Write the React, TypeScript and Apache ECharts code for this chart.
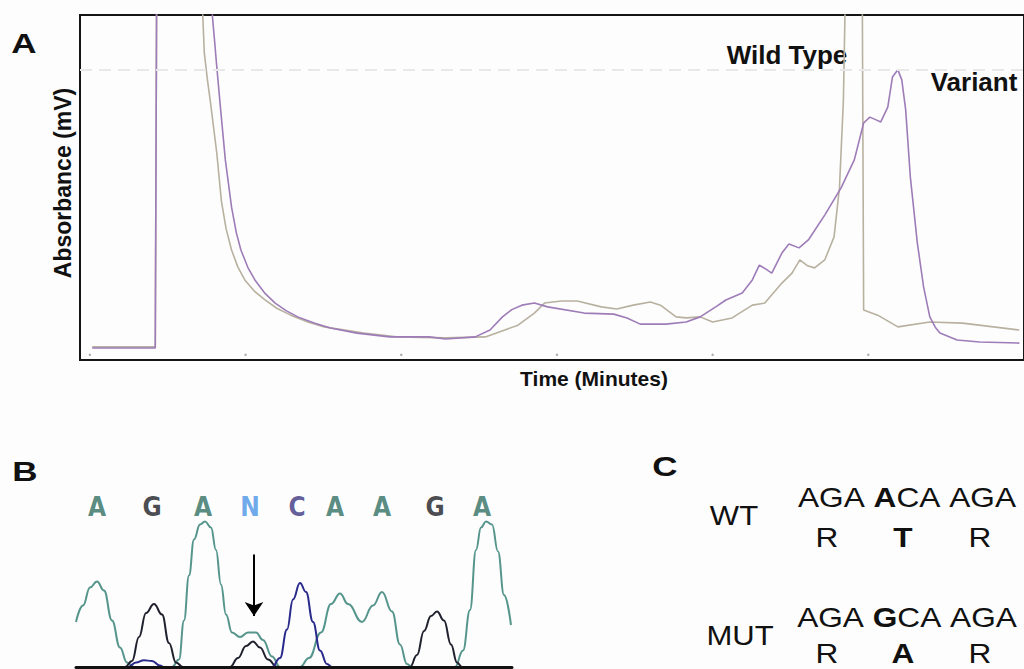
import React, { useEffect, useRef } from "react";
import * as echarts from "echarts";

// ---------- Panel A: chromatogram (time in minutes, absorbance in relative mV) ----------
const variantTrace: [number, number][] = [
  [0.03, 3.5], [0.84, 3.5], [0.86, 120], [1.56, 120], [1.575, 99.4], [1.60, 93.0], [1.63, 85.0],
  [1.68, 72.5], [1.74, 58.0], [1.82, 44.3], [1.88, 37.0], [1.94, 31.9], [2.03, 26.8], [2.12, 23.2],
  [2.25, 19.3], [2.38, 16.5], [2.52, 14.3], [2.67, 12.5], [2.88, 10.7], [3.09, 9.3], [3.43, 7.8],
  [3.85, 6.7], [4.36, 6.7], [4.57, 6.1], [4.95, 6.7], [5.14, 8.7], [5.30, 12.5], [5.42, 14.6],
  [5.55, 15.9], [5.71, 16.5], [5.88, 15.4], [6.35, 13.6], [6.73, 13.3], [6.90, 12.2], [7.07, 10.4],
  [7.40, 10.4], [7.66, 11.0], [7.84, 12.5], [8.04, 15.4], [8.17, 17.4], [8.38, 19.4], [8.51, 23.2],
  [8.60, 27.5], [8.68, 26.4], [8.76, 25.2], [8.89, 31.0], [8.98, 33.6], [9.11, 32.5], [9.23, 34.8],
  [9.44, 42.0], [9.65, 49.9], [9.82, 58.0], [9.94, 68.7], [10.02, 70.4], [10.10, 69.6], [10.16, 69.0],
  [10.25, 73.3], [10.31, 82.0], [10.38, 84.1], [10.43, 81.2], [10.48, 72.5], [10.54, 53.0],
  [10.63, 33.9], [10.71, 21.2], [10.79, 12.5], [10.86, 9.5], [10.92, 7.8], [11.14, 5.8], [11.43, 5.2],
  [11.94, 4.9],
];
const wildTypeTrace: [number, number][] = [
  [0.03, 3.8], [0.84, 3.8], [0.86, 120], [1.43, 120], [1.45, 100], [1.47, 89.0], [1.51, 81.2],
  [1.55, 74.5], [1.63, 60.0], [1.69, 46.0], [1.75, 38.0], [1.82, 31.9], [1.90, 27.0], [1.99, 23.2],
  [2.12, 19.8], [2.25, 17.4], [2.40, 15.0], [2.58, 13.0], [2.80, 11.0], [3.01, 9.6], [3.52, 7.8],
  [3.94, 6.7], [4.57, 6.4], [5.08, 6.7], [5.50, 10.1], [5.71, 13.6], [5.84, 16.5], [6.06, 17.1],
  [6.26, 17.1], [6.57, 15.4], [6.77, 14.8], [6.98, 15.9], [7.20, 16.8], [7.33, 15.9], [7.53, 12.5],
  [7.66, 12.2], [7.84, 12.5], [8.00, 11.0], [8.25, 12.2], [8.51, 15.9], [8.67, 16.5], [8.89, 22.3],
  [9.02, 25.2], [9.12, 29.0], [9.22, 27.3], [9.31, 26.7], [9.44, 29.0], [9.56, 35.7], [9.63, 50.1],
  [9.68, 75.4], [9.70, 100], [9.73, 120], [9.92, 120], [9.94, 14.5], [10.12, 13.0], [10.38, 9.6],
  [10.79, 11.0], [11.21, 10.7], [11.94, 8.7],
];
const timeTicks = [0, 2, 4, 6, 8, 10];
const referenceLevel = 84.1;

// ---------- Panel B: sequencing trace (scan position, signal) ----------
const baseCalls = ["A", "G", "A", "N", "C", "A", "A", "G", "A"];
const baseCallPositions = [21, 76, 127, 174, 221, 259, 306, 359, 406];
const channelA: [number, number][] = [
  [0, 30], [7, 41], [14, 53], [21, 57], [28, 51], [36, 31], [44, 13], [51, 3], [58, 0], [96, 0],
  [103, 5], [108, 31], [113, 61], [118, 85], [124, 95], [129, 97], [135, 93], [140, 78], [145, 55],
  [150, 35], [156, 23], [164, 20], [172, 23], [180, 23], [187, 18], [196, 7], [204, 0], [224, 0],
  [233, 6], [245, 23], [255, 42], [264, 49], [272, 42], [286, 30], [297, 41], [306, 50], [316, 37],
  [324, 15], [331, 2], [336, 0], [379, 0], [387, 11], [394, 38], [400, 78], [405, 93], [410, 97],
  [416, 95], [422, 77], [428, 48], [435, 28],
];
const channelG: [number, number][] = [
  [0, 0], [49, 0], [56, 4], [63, 20], [70, 36], [78, 42], [86, 35], [93, 16], [100, 3], [107, 0],
  [154, 0], [162, 6], [170, 14], [177, 17], [184, 13], [192, 5], [201, 0], [334, 0], [341, 8],
  [348, 24], [355, 34], [361, 37], [368, 31], [375, 15], [381, 3], [386, 0], [436, 0],
];
const channelC: [number, number][] = [
  [0, 0], [52, 0], [60, 3], [68, 4.5], [76, 4], [84, 1], [88, 0], [196, 0], [204, 6], [211, 25],
  [217, 45], [224, 56], [230, 50], [237, 30], [244, 11], [251, 2], [256, 0], [436, 0],
];
const mutationArrow = { position: 178, from: 75, to: 34 };

// ---------- Panel C: codons ----------
const wtCodons = ["AGA", "ACA", "AGA"];
const mutCodons = ["AGA", "GCA", "AGA"];
const wtResidues = ["R", "T", "R"];
const mutResidues = ["R", "A", "R"];
const changedIndex = 1;

const FONT = '"Liberation Sans", Arial, Helvetica, sans-serif';
const baseColors: Record<string, string> = {
  A: "#2f6e62",
  G: "#1b1b24",
  N: "#4a94e6",
  C: "#3b3580",
};

function codonRich(codons: string[]) {
  return codons
    .map((c, i) => (i === changedIndex ? `{b|${c[0]}}{n|${c.slice(1)}}` : `{n|${c}}`))
    .join("{n| }");
}

function txt(
  text: string,
  x: number,
  y: number,
  size: number,
  weight: string,
  extra: Record<string, any> = {}
) {
  return {
    type: "text",
    x,
    y,
    scaleX: extra.scaleX ?? 1,
    rotation: extra.rotation ?? 0,
    style: {
      text,
      fontSize: size,
      fontWeight: weight,
      fontFamily: FONT,
      fill: "#111",
      align: "center",
      textAlign: "center",
      verticalAlign: "middle",
      textVerticalAlign: "middle",
      ...(extra.rich ? { rich: extra.rich } : {}),
    },
  };
}

export default function App() {
  const ref = useRef<HTMLDivElement>(null);

  useEffect(() => {
    if (!ref.current) return;
    const chart = echarts.init(ref.current, null, { renderer: "svg" });

    const codonSize = 28;
    const rich = {
      n: { fontSize: codonSize, fontFamily: FONT, fontWeight: "normal", fill: "#111", color: "#111" },
      b: { fontSize: codonSize, fontFamily: FONT, fontWeight: "bold", fill: "#111", color: "#111" },
    };
    const residueX = [827, 903, 980];

    const option: any = {
      animation: false,
      backgroundColor: "#fdfdfd",
      grid: [
        { left: 80, top: 15, width: 955, height: 345, show: true, borderColor: "#151515", borderWidth: 2, backgroundColor: "transparent" },
        { left: 76, top: 490, width: 436, height: 177 },
      ],
      xAxis: [
        { gridIndex: 0, type: "value", min: -0.127, max: 12, show: false },
        {
          gridIndex: 1, type: "value", min: 0, max: 436, z: 5,
          axisLine: { show: true, lineStyle: { color: "#111", width: 3 } },
          axisTick: { show: false }, axisLabel: { show: false }, splitLine: { show: false },
        },
      ],
      yAxis: [
        { gridIndex: 0, type: "value", min: 0, max: 100, show: false },
        { gridIndex: 1, type: "value", min: 0, max: 118, show: false },
      ],
      series: [
        {
          name: "Wild Type", type: "line", xAxisIndex: 0, yAxisIndex: 0, data: wildTypeTrace,
          showSymbol: false, symbol: "none", smooth: false, clip: true,
          lineStyle: { color: "#b8b1a0", width: 1.6 },
          markLine: {
            silent: true, symbol: "none", label: { show: false },
            lineStyle: { type: [12, 7], color: "#e8e8e8", width: 2 },
            data: [{ yAxis: referenceLevel }],
          },
        },
        {
          name: "Variant", type: "line", xAxisIndex: 0, yAxisIndex: 0, data: variantTrace,
          showSymbol: false, symbol: "none", smooth: false, clip: true,
          lineStyle: { color: "#9e7cb8", width: 1.6 },
        },
        {
          name: "ticks", type: "scatter", xAxisIndex: 0, yAxisIndex: 0,
          data: timeTicks.map((t) => [t, 1.5]), symbolSize: 2.5,
          itemStyle: { color: "#9a9a9a" },
        },
        {
          name: "A", type: "line", xAxisIndex: 1, yAxisIndex: 1, data: channelA,
          showSymbol: false, symbol: "none", smooth: 0.45, smoothMonotone: "x",
          lineStyle: { color: "#55958c", width: 2 },
          markLine: {
            silent: true, symbol: ["none", "arrow"], symbolSize: 14, label: { show: false },
            lineStyle: { color: "#000", width: 2, type: "solid" },
            data: [[
              { coord: [mutationArrow.position, mutationArrow.from] },
              { coord: [mutationArrow.position, mutationArrow.to] },
            ]],
          },
        },
        {
          name: "G", type: "line", xAxisIndex: 1, yAxisIndex: 1, data: channelG,
          showSymbol: false, symbol: "none", smooth: 0.45, smoothMonotone: "x",
          lineStyle: { color: "#20212e", width: 2 },
        },
        {
          name: "C", type: "line", xAxisIndex: 1, yAxisIndex: 1, data: channelC,
          showSymbol: false, symbol: "none", smooth: 0.45, smoothMonotone: "x",
          lineStyle: { color: "#2a2a8c", width: 2 },
        },
        {
          name: "calls", type: "scatter", xAxisIndex: 1, yAxisIndex: 1, symbolSize: 0,
          data: baseCalls.map((b, i) => ({
            value: [baseCallPositions[i], 107],
            label: {
              show: true, position: "inside", formatter: b,
              color: baseColors[b], fontSize: 26, fontWeight: "bold",
              fontFamily: '"DejaVu Sans Condensed", "DejaVu Sans", sans-serif',
            },
          })),
        },
      ],
      graphic: [
        txt("A", 24, 43, 28, "bold", { scaleX: 1.25 }),
        txt("B", 25, 471, 28, "bold", { scaleX: 1.25 }),
        txt("C", 665, 466, 28, "bold", { scaleX: 1.25 }),
        txt("Absorbance (mV)", 63, 183, 23, "bold", { rotation: Math.PI / 2 }),
        txt("Time (Minutes)", 594, 378, 21, "bold"),
        txt("Wild Type", 787, 55, 26, "bold"),
        txt("Variant", 974, 82, 26, "bold"),
        txt("WT", 734, 516, 27, "normal", { scaleX: 1.15 }),
        txt("MUT", 740, 636, 27, "normal", { scaleX: 1.15 }),
        txt(codonRich(wtCodons), 907, 497, codonSize, "normal", { scaleX: 1.13, rich }),
        txt(codonRich(mutCodons), 907, 617, codonSize, "normal", { scaleX: 1.13, rich }),
        ...wtResidues.map((r, i) => txt(r, residueX[i], 537, codonSize, i === changedIndex ? "bold" : "normal", { scaleX: 1.13 })),
        ...mutResidues.map((r, i) => txt(r, residueX[i], 653, codonSize, i === changedIndex ? "bold" : "normal", { scaleX: 1.13 })),
      ],
    };

    chart.setOption(option);
    return () => chart.dispose();
  }, []);

  return (
    <div
      ref={ref}
      style={{ position: "absolute", left: 0, top: 0, width: 1024, height: 669, background: "#fdfdfd" }}
    />
  );
}
